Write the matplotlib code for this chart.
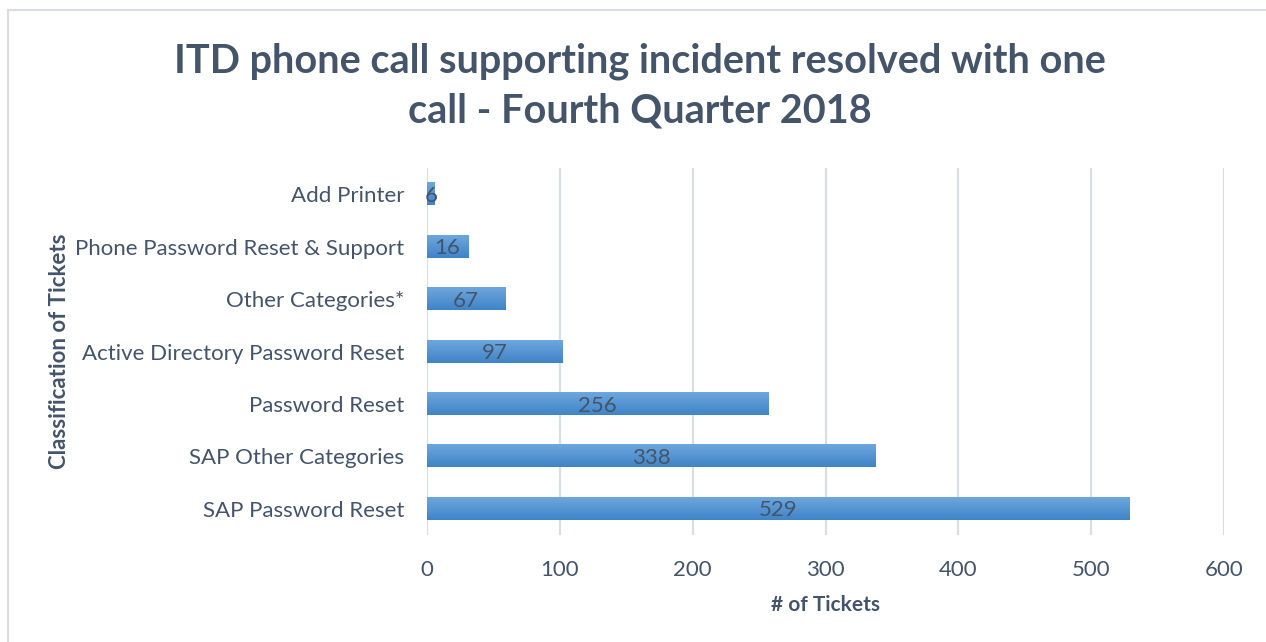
import numpy as np
import matplotlib.pyplot as plt
from matplotlib.lines import Line2D
from matplotlib.colors import LinearSegmentedColormap

plt.rcParams['font.family'] = ['Lato', 'DejaVu Sans']

# data, bottom to top
categories = ['SAP Password Reset', 'SAP Other Categories', 'Password Reset',
              'Active Directory Password Reset', 'Other Categories*',
              'Phone Password Reset & Support', 'Add Printer']
bar_lengths = [529, 338, 257, 102, 59, 31, 6]      # as drawn
label_values = [529, 338, 256, 97, 67, 16, 6]      # data labels shown
xticks = [0, 100, 200, 300, 400, 500, 600]

txt = '#44546A'
grid = '#D9DEE6'

fig = plt.figure(figsize=(12.66, 6.42), dpi=100)
W, H = 1266, 642
ax = fig.add_axes([427 / W, 1 - 535 / H, (1224 - 427) / W, (535 - 168) / H])

y = np.arange(len(categories))
h = 0.42
bars = ax.barh(y, bar_lengths, height=h, color='#5B9BD5', zorder=2)

# vertical gradient inside each bar
grad = np.linspace(0, 1, 64).reshape(-1, 1)
cmap = LinearSegmentedColormap.from_list('g', ['#3F84C7', '#6EA7DE'])
for b in bars:
    x0, y0 = b.get_x(), b.get_y()
    ax.imshow(grad, cmap=cmap, aspect='auto', origin='lower',
              extent=(x0, x0 + b.get_width(), y0, y0 + b.get_height()), zorder=3)

for yi, L, v in zip(y, bar_lengths, label_values):
    ax.text(L / 2, yi - 0.03, str(v), ha='center', va='center', fontsize=16,
            color=txt, zorder=4)

ax.set_xlim(0, 600)
ax.set_ylim(-0.5, len(categories) - 0.5)
ax.set_xticks(xticks)
ax.set_yticks(y)
ax.set_yticklabels(categories)
ax.xaxis.grid(True, color=grid, linewidth=1.6, zorder=0)
ax.set_axisbelow(True)
for s in ax.spines.values():
    s.set_visible(False)
ax.tick_params(axis='both', length=0, colors=txt, labelsize=16)
ax.tick_params(axis='x', pad=18)
ax.tick_params(axis='y', pad=16.5)

ax.set_xlabel('# of Tickets', fontsize=15, fontweight='bold', color=txt, labelpad=11)
ax.set_ylabel('Classification of Tickets', fontsize=16, fontweight='bold', color=txt)
ax.yaxis.set_label_coords((70 - 427) / (1224 - 427), 0.5)

fig.text(640 / W, 1 - 86 / H, 'ITD phone call supporting incident resolved with one\ncall - Fourth Quarter 2018',
         ha='center', va='center', fontsize=28.5, fontweight='bold', color=txt,
         linespacing=1.45)

# thin chart border
fig.add_artist(Line2D([8 / W, 8 / W], [0, 1 - 10 / H], color='#D9DEE6', lw=1.5, transform=fig.transFigure))
fig.add_artist(Line2D([8 / W, 1], [1 - 10 / H, 1 - 10 / H], color='#D9DEE6', lw=1.5, transform=fig.transFigure))

fig.savefig('out.png', dpi=100)
